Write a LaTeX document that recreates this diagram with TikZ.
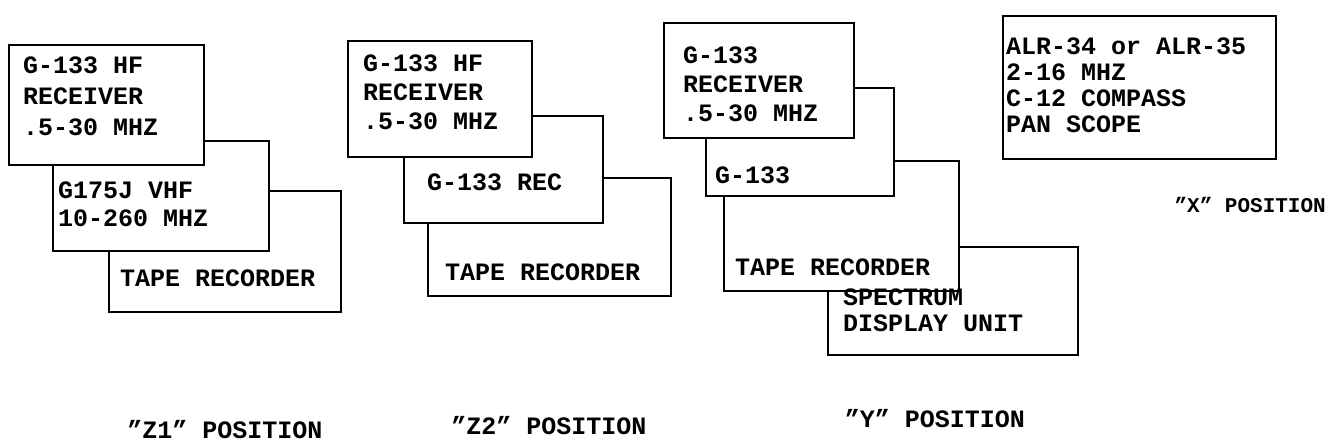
\documentclass[tikz,border=0pt]{standalone}
\usepackage{fontspec}
\setmainfont{Liberation Mono}
\usetikzlibrary{positioning}

\tikzset{
  unit/.style={draw=black, line width=1.5pt, fill=white, inner sep=0pt, anchor=north west},
  lbl/.style={anchor=west, inner sep=0pt, align=left, font=\fontsize{25}{#1}\selectfont\bfseries},
  lbl/.default=30,
  posn/.style={inner sep=0pt, font=\fontsize{25}{30}\selectfont\bfseries}
}

\begin{document}
\begin{tikzpicture}[x=1pt, y=-1pt]
    \useasboundingbox (0,0) rectangle (1330,445);
    % "Z1" position, back to front
    \node[unit, minimum width=232pt, minimum height=121pt] (z1tape) at (108,190) {};
    \node[unit, minimum width=216pt, minimum height=110pt] (z1vhf) at (52,140) {};
    \node[unit, minimum width=195pt, minimum height=120pt] (z1rx) at (8,44) {};
    \node[lbl=31] (z1rxt) at (23,96) {G-133 HF\\RECEIVER\\.5-30 MHZ};
    \node[lbl=28] (z1vhft) at (58,204) {G175J VHF\\10-260 MHZ};
    \node[lbl] (z1tapet) at (120,278) {TAPE RECORDER};
    % "Z2" position
    \node[unit, minimum width=243pt, minimum height=118pt] (z2tape) at (427,177) {};
    \node[unit, minimum width=199pt, minimum height=107pt] (z2rec) at (403,115) {};
    \node[unit, minimum width=184pt, minimum height=116pt] (z2rx) at (347,40) {};
    \node[lbl=29] (z2rxt) at (363,92) {G-133 HF\\RECEIVER\\.5-30 MHZ};
    \node[lbl] (z2rect) at (427,182) {G-133 REC};
    \node[lbl] (z2tapet) at (445,272) {TAPE RECORDER};
    % "Y" position
    \node[unit, minimum width=250pt, minimum height=108pt] (yspec) at (827,246) {};
    \node[unit, minimum width=235pt, minimum height=130pt] (ytape) at (723,160) {};
    \node[unit, minimum width=188pt, minimum height=108pt] (yrec) at (705,87) {};
    \node[unit, minimum width=190pt, minimum height=115pt] (yrx) at (663,22) {};
    \node[lbl=29] (yrxt) at (683,84) {G-133\\RECEIVER\\.5-30 MHZ};
    \node[lbl] (yrect) at (715,175) {G-133};
    \node[lbl] (ytapet) at (735,267) {TAPE RECORDER};
    \node[lbl=26] (yspect) at (843,310) {SPECTRUM\\DISPLAY UNIT};
    % "X" position
    \node[unit, minimum width=273pt, minimum height=143pt] (xalr) at (1002,15) {};
    \node[lbl=26] (xalrt) at (1006,85) {ALR-34 or ALR-35\\2-16 MHZ\\C-12 COMPASS\\PAN SCOPE};
    % position names
    \node[posn] (z1pos) at (225,430) {"Z1" POSITION};
    \node[posn] (z2pos) at (549,426) {"Z2" POSITION};
    \node[posn] (ypos) at (935,419) {"Y" POSITION};
    \node[posn, anchor=east, font=\fontsize{21}{25}\selectfont\bfseries] (xpos) at (1326,205) {"X" POSITION};
\end{tikzpicture}
\end{document}
